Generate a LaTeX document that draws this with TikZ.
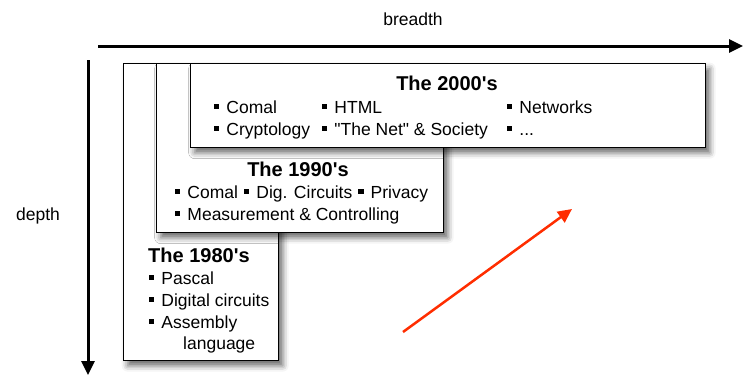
\documentclass[tikz,border=0pt]{standalone}
\usepackage{fontspec}
\setmainfont{Liberation Sans}
\usetikzlibrary{arrows.meta,shadows.blur}
\newcommand{\sqitem}{\rule[0.22em]{0.3em}{0.3em}\hspace{0.4em}}
\begin{document}
\begin{tikzpicture}[x=1pt,y=-1pt,
    era/.style={draw,line width=1.3pt,fill=white,anchor=north west,inner sep=0pt,
      blur shadow={shadow xshift=4pt,shadow yshift=-5pt,shadow blur radius=6pt,shadow opacity=60}},
    txt/.style={anchor=base west,inner sep=0pt,font=\fontsize{17.5}{20}\selectfont},
    ttl/.style={anchor=base,inner sep=0pt,font=\fontsize{20}{24}\selectfont\bfseries}]
  \useasboundingbox (0,0) rectangle (743,375);

  % axes
  \coordinate (br0) at (98,46);
  \coordinate (br1) at (743,46);
  \coordinate (de0) at (88,60);
  \coordinate (de1) at (88,375);
  \draw[line width=3pt,-{Triangle[length=14pt,width=13pt]}] (br0)--(br1);
  \draw[line width=3pt,-{Triangle[length=14pt,width=13pt]}] (de0)--(de1);
  \node[txt,anchor=base] (lbr) at (413,25) {breadth};
  \node[txt,anchor=base] (lde) at (38,220) {depth};

  % boxes
  \node[era,minimum width=155pt,minimum height=297pt] (b80) at (123,63) {};
  \node[era,minimum width=287pt,minimum height=169pt] (b90) at (156,63) {};
  \node[era,minimum width=515pt,minimum height=84pt] (b00) at (190,63) {};

  % 2000's
  \node[ttl] (t00) at (447,90) {The 2000\textquotesingle s};
  \node[txt] (c1) at (214,113) {\sqitem Comal};
  \node[txt] (c2) at (322,113) {\sqitem HTML};
  \node[txt] (c3) at (507,113) {\sqitem Networks};
  \node[txt] (c4) at (214,135) {\sqitem Cryptology};
  \node[txt] (c5) at (322,135) {\sqitem \textquotedbl The Net\textquotedbl\ \& Society};
  \node[txt] (c6) at (507,135) {\sqitem ...};

  % 1990's
  \node[ttl] (t90) at (298,176) {The 1990\textquotesingle s};
  \node[txt] (n1) at (175,198) {\sqitem Comal\hspace{0.35em}\sqitem Dig. Circuits\hspace{0.35em}\sqitem Privacy};
  \node[txt] (n2) at (175,220) {\sqitem Measurement \& Controlling};

  % 1980's
  \node[ttl,anchor=base west] (t80) at (148,262) {The 1980\textquotesingle s};
  \node[txt] (e1) at (149,284) {\sqitem Pascal};
  \node[txt] (e2) at (149,306) {\sqitem Digital circuits};
  \node[txt] (e3) at (149,328) {\sqitem Assembly};
  \node[txt] (e4) at (183,349) {language};

  % direction
  \coordinate (r0) at (403,332);
  \coordinate (r1) at (572,209);
  \draw[line width=2.5pt,color={rgb,255:red,255;green,45;blue,0},
    -{Triangle[length=14pt,width=13pt]}] (r0)--(r1);
\end{tikzpicture}
\end{document}
